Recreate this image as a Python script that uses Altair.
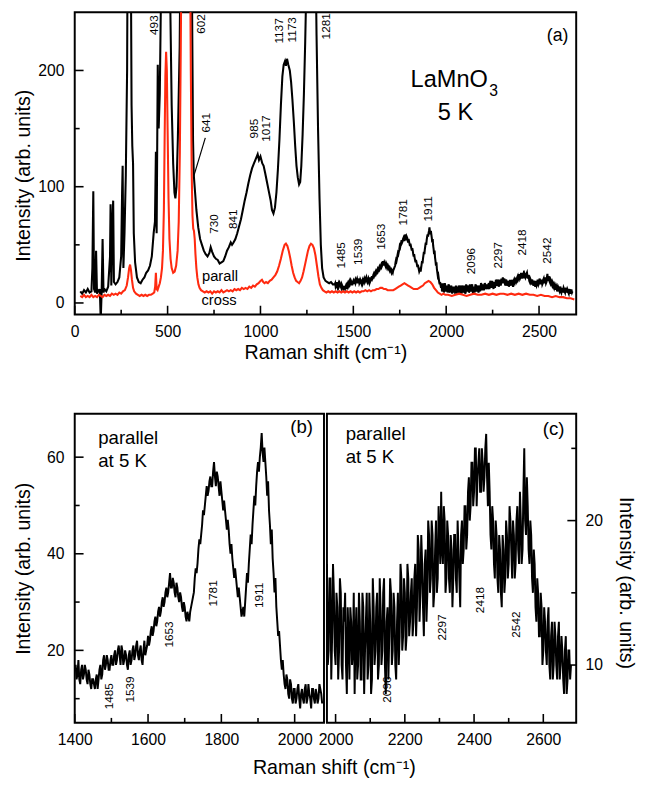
import altair as alt
import pandas as pd

FONT = "Liberation Sans, Arial, Helvetica, sans-serif"
BLACK = "#000000"
RED = "#ff2a10"

# ---------------- data ----------------
# panel (a) parallel spectrum below 1400 cm-1
parall_low_x = [30, 40, 50, 60, 70, 80, 90, 95, 100, 104, 110, 115, 120, 125, 130, 135, 140, 145,
                150, 155, 160, 170, 180, 190, 193, 197, 203, 207, 211, 220, 230, 240, 250, 255,
                258, 262, 268, 275, 282, 287, 292, 297, 302, 306, 310, 314, 318, 325, 335, 345,
                355, 365, 375, 385, 395, 405, 415, 425, 432, 437, 441, 447, 452, 458, 464, 470,
                480, 493, 505, 515, 522, 530, 537, 542, 548, 555, 565, 575, 590, 602, 615, 625,
                632, 637, 641, 648, 655, 665, 675, 685, 695, 705, 715, 725, 732, 740, 750, 760,
                770, 780, 790, 800, 810, 820, 830, 840, 847, 855, 865, 875, 885, 895, 905, 915,
                925, 935, 945, 955, 965, 975, 985, 992, 1000, 1010, 1017, 1025, 1035, 1045, 1055,
                1062, 1070, 1078, 1086, 1094, 1102, 1110, 1118, 1125, 1132, 1137, 1143, 1150,
                1158, 1165, 1172, 1180, 1187, 1194, 1201, 1208, 1214, 1220, 1227, 1234, 1241,
                1248, 1256, 1270, 1285, 1295, 1302, 1310, 1318, 1325, 1332, 1340, 1350, 1360,
                1370, 1380, 1390]
parall_low_y = [10, 8, 11, 9, 12, 9, 10, 30, 96, 12, 9, 45, 8, 11, 10, 12, -15, 10,
                55, 9, 12, 10, 14, 40, 85, 15, 70, 88, 18, 16, 18, 22, 40, 95,
                118, 30, 60, 110, 200, 400, 400, 400, 300, 170, 135, 120, 60, 35, 22, 18,
                17, 20, 22, 26, 28, 32, 40, 60, 70, 130, 60, 205, 150, 180, 260, 400,
                400, 400, 400, 250, 170, 120, 95, 90, 100, 140, 220, 400, 400, 400, 400, 350,
                250, 140, 110, 95, 80, 65, 55, 50, 45, 42, 40, 43, 48, 44, 40, 38,
                37, 34, 35, 36, 40, 45, 48, 52, 50, 52, 55, 60, 66, 72, 80, 88,
                95, 103, 110, 116, 120, 124, 128, 123, 126, 120, 118, 112, 104, 96, 88,
                80, 77, 82, 95, 115, 140, 170, 195, 205, 208, 204, 210, 205,
                200, 190, 175, 155, 135, 118, 108, 102, 104, 118, 145, 180, 225,
                280, 400, 400, 400, 320, 230, 150, 90, 50, 30, 22, 19, 18,
                17, 18, 16]

# panel (a) crossed-polarisation spectrum
cross_x = [30, 40, 50, 60, 70, 80, 90, 100, 110, 120, 130, 140, 150, 160, 170, 180, 190, 200,
           210, 220, 230, 240, 250, 260, 270, 280, 287, 293, 298, 303, 308, 314, 320, 330, 340,
           350, 360, 370, 380, 390, 400, 410, 420, 428, 433, 437, 441, 446, 452, 458, 464, 470,
           475, 480, 484, 488, 492, 496, 500, 505, 510, 516, 522, 530, 538, 546, 554, 560, 566,
           571, 576, 580, 600, 615, 620, 625, 630, 634, 638, 642, 646, 650, 655, 660, 666, 672,
           680, 690, 700, 710, 720, 730, 740, 750, 760, 770, 780, 790, 800, 810, 820, 830, 840,
           850, 860, 870, 880, 890, 900, 910, 920, 930, 940, 950, 960, 970, 980, 990, 1000,
           1008, 1015, 1022, 1030, 1040, 1050, 1060, 1070, 1080, 1090, 1100, 1110, 1120, 1130,
           1137, 1145, 1152, 1160, 1168, 1176, 1184, 1192, 1200, 1208, 1216, 1224, 1232, 1240,
           1248, 1256, 1264, 1272, 1280, 1288, 1296, 1304, 1312, 1320, 1328, 1336, 1345, 1355,
           1365, 1375, 1385, 1395, 1405, 1415, 1425, 1435, 1445, 1455, 1465, 1475, 1485, 1495,
           1505, 1515, 1525, 1535, 1545, 1555, 1565, 1575, 1585, 1595, 1605, 1615, 1625, 1635,
           1645, 1655, 1665, 1675, 1685, 1695, 1705, 1715, 1725, 1735, 1745, 1755, 1765, 1775,
           1785, 1795, 1805, 1815, 1825, 1835, 1845, 1855, 1865, 1875, 1885, 1895, 1905, 1915,
           1925, 1935, 1945, 1955, 1965, 1975, 1985, 1995, 2010, 2030, 2050, 2070, 2090, 2110,
           2130, 2150, 2170, 2190, 2210, 2230, 2250, 2270, 2290, 2310, 2330, 2350, 2370, 2390,
           2410, 2430, 2450, 2470, 2490, 2510, 2530, 2550, 2570, 2590, 2610, 2630, 2650, 2670,
           2690]
cross_y = [6, 5, 7, 5, 6, 5, 7, 5, 6, 5, 7, 6, 5, 7, 6, 7, 6, 8,
           7, 8, 7, 9, 8, 10, 11, 15, 22, 30, 33, 28, 20, 13, 10, 8, 7,
           6, 7, 6, 7, 6, 7, 7, 8, 9, 14, 26, 12, 11, 14, 17, 22, 30,
           45, 80, 140, 195, 216, 200, 150, 90, 55, 38, 30, 26, 27, 32, 45, 70, 130,
           220, 330, 420, 450, 420, 330, 200, 110, 75, 64, 62, 55, 42, 30, 22, 16, 13,
           11, 10, 9, 10, 9, 10, 8, 10, 9, 10, 9, 11, 9, 10, 11, 10, 11,
           10, 12, 11, 12, 11, 13, 12, 13, 12, 14, 13, 15, 14, 16, 17, 19,
           20, 18, 17, 18, 17, 19, 20, 22, 24, 27, 32, 38, 45, 50,
           51, 49, 45, 39, 32, 26, 22, 19, 18, 17, 19, 22, 27, 33,
           39, 45, 49, 51, 50, 47, 41, 32, 23, 16, 13, 11, 10, 9,
           10, 9, 10, 9, 10, 9, 10, 9, 10, 9, 10, 9, 10, 9,
           10, 9, 10, 9, 10, 10, 11, 10, 11, 10, 11, 11, 12, 12,
           13, 13, 12, 12, 11, 11, 11, 11, 12, 13, 14, 15, 16, 17,
           16, 15, 14, 13, 12, 12, 12, 13, 14, 15, 17, 18, 19, 18,
           16, 13, 11, 9, 8, 7, 8, 7, 7, 6, 7, 8, 7, 6,
           7, 8, 7, 7, 8, 7, 8, 7, 8, 8, 7, 8, 7, 8,
           7, 8, 7, 7, 6, 7, 6, 6, 5, 6, 5, 5, 4, 4,
           3]

# panel (b): parallel spectrum 1400-2075 cm-1, read every 5 cm-1 ...
b_start, b_step = 1400, 5
b_y = [16, 14, 18, 13, 17, 15, 16, 13, 15, 12,
       14, 12, 15, 14, 17, 15, 19, 17, 18, 16,
       19, 17, 20, 18, 21, 17, 20, 18, 19, 16,
       20, 18, 21, 19, 22, 18, 21, 17, 22, 20,
       23, 22, 25, 24, 27, 26, 29, 28, 31, 30,
       33, 32, 36, 33, 34, 31, 33, 30, 31, 28,
       29, 26, 27, 28, 30, 32, 37, 38, 43, 44,
       49, 50, 54, 53, 56, 54, 59, 54, 56, 52,
       53, 49, 49, 45, 45, 40, 39, 35, 35, 31,
       31, 27, 29, 30, 36, 38, 44, 46, 52, 54,
       59, 60, 65, 59, 59, 52, 49, 42, 39, 32,
       29, 23, 21, 16, 15, 12, 14, 10, 13, 9,
       12, 10, 13, 8, 12, 9, 13, 10, 11, 8,
       12, 9, 11, 10, 12, 9]
# ... and at the half-way points 1402.5, 1407.5, ...
b_mid_y = [17, 15, 14, 16, 14, 17, 14, 16, 13, 14,
           13, 14, 12, 16, 14, 18, 16, 19, 16, 18,
           17, 19, 17, 20, 19, 21, 17, 20, 17, 19,
           17, 20, 18, 21, 19, 20, 18, 20, 19, 21,
           21, 24, 23, 26, 25, 28, 27, 30, 29, 32,
           31, 34, 33, 35, 32, 34, 31, 32, 29, 30,
           27, 28, 26, 29, 31, 35, 36, 41, 42, 46,
           48, 52, 52, 55, 54, 57, 56, 57, 54, 55,
           51, 51, 47, 47, 42, 42, 37, 37, 33, 33,
           29, 28, 27, 33, 34, 41, 42, 49, 50, 57,
           57, 62, 61, 62, 56, 55, 46, 45, 36, 35,
           26, 24, 18, 18, 13, 15, 11, 14, 10, 12,
           9, 12, 10, 11, 10, 12, 9, 13, 10, 12,
           10, 12, 9, 13, 11]

# panel (c): parallel spectrum 1975-2680 cm-1, read every 5 cm-1 ...
c_start, c_step = 1975, 5
c_y = [17, 11, 16, 12, 15, 10, 14, 11, 15, 9,
       13, 10, 14, 9, 13, 11, 8, 14, 10, 13,
       9, 14, 11, 15, 10, 13, 9, 14, 11, 15,
       10, 14, 11, 16, 8, 14, 12, 15, 11, 14,
       9, 15, 12, 16, 12, 15, 12, 16, 13, 16,
       13, 17, 14, 18, 15, 17, 12, 18, 15, 19,
       16, 19, 15, 20, 16, 19, 22, 17, 20, 16,
       19, 15, 18, 16, 19, 15, 18, 14, 20, 18,
       21, 19, 23, 21, 24, 22, 25, 23, 25, 22,
       24, 23, 26, 21, 22, 18, 20, 16, 19, 15,
       18, 14, 18, 16, 19, 17, 20, 16, 19, 17,
       21, 17, 20, 18, 25, 19, 21, 17, 19, 15,
       17, 13, 15, 12, 14, 11, 13, 10, 14, 9,
       13, 10, 12, 9, 13, 10, 11, 8, 12, 9,
       11, 10]
# ... and at the half-way points 1977.5, 1982.5, ...
c_mid_y = [10, 16, 9, 17, 11, 15, 9, 16, 10, 14,
           15, 8, 12, 14, 10, 15, 12, 9, 15, 9,
           15, 8, 13, 9, 15, 8, 16, 10, 14, 9,
           16, 10, 15, 10, 13, 9, 16, 10, 15, 10,
           13, 10, 17, 11, 16, 11, 17, 12, 15, 12,
           16, 12, 19, 13, 19, 14, 17, 13, 20, 15,
           20, 14, 18, 15, 21, 17, 18, 21, 15, 20,
           16, 19, 14, 19, 16, 20, 16, 19, 17, 21,
           18, 22, 20, 24, 21, 25, 21, 24, 22, 25,
           22, 25, 23, 24, 19, 21, 17, 20, 16, 19,
           15, 19, 15, 20, 16, 21, 18, 20, 16, 20,
           18, 22, 17, 22, 20, 23, 18, 20, 16, 18,
           14, 16, 12, 15, 10, 14, 11, 13, 10, 12,
           9, 13, 10, 12, 9, 12, 9, 11, 8, 11,
           9]

# tick values
a_x_major = [0, 500, 1000, 1500, 2000, 2500]
a_x_minor = [250, 750, 1250, 1750, 2250]
a_y_major = [0, 100, 200]
a_y_minor = [50, 150]
b_x_major = [1400, 1600, 1800, 2000]
b_x_minor = [1500, 1700, 1900]
b_y_major = [20, 40, 60]
b_y_minor = [10, 30, 50]
c_x_major = [2000, 2200, 2400, 2600]
c_x_minor = [2100, 2300, 2500]
c_y_major = [10, 20]
c_y_minor = [15, 25]

# peak annotations
a_peak_text = ["493", "602", "641", "730", "841", "985", "1017", "1137", "1173", "1281",
               "1485", "1539", "1653", "1781", "1911", "2096", "2297", "2418", "2542"]
a_peak_x = [428, 682, 708, 750, 851, 967, 1030, 1099, 1168, 1353,
            1432, 1527, 1649, 1770, 1902, 2135, 2277, 2409, 2541]
a_peak_y = [239, 240, 155, 68, 72, 150, 150, 234, 235, 238,
            41, 44, 57, 78, 81, 36, 41, 52, 45]
b_peak_text = ["1485", "1539", "1653", "1781", "1911"]
b_peak_x = [1494, 1550, 1657, 1777, 1903]
b_peak_y = [10.5, 11.9, 23.3, 31.8, 31.4]
c_peak_text = ["2096", "2297", "2418", "2542"]
c_peak_x = [2148, 2307, 2417, 2522]
c_peak_y = [8.3, 12.6, 14.5, 12.8]

# ---------------- tables ----------------
def grid(start, step, vals):
    return pd.DataFrame({"x": [start + i * step for i in range(len(vals))], "y": vals})

df_b = pd.concat([grid(b_start, b_step, b_y), grid(b_start + b_step / 2, b_step, b_mid_y)]
                 ).sort_values("x").reset_index(drop=True)
df_c = pd.concat([grid(c_start, c_step, c_y), grid(c_start + c_step / 2, c_step, c_mid_y)]
                 ).sort_values("x").reset_index(drop=True)
df_a_par = pd.concat([pd.DataFrame({"x": parall_low_x, "y": parall_low_y}),
                      df_b[df_b.x < c_start], df_c], ignore_index=True)
df_a_cross = pd.DataFrame({"x": cross_x, "y": cross_y})

A_W, A_H = 511, 308
P_W, P_H = 254, 315
MAJ, MIN = 9, 5


def ax(values, title=None, orient=None, lp=10, tp=4, ty=None):
    kw = dict(values=values, title=title, format="d", labelFlush=False, labelOverlap=False,
              domain=False, ticks=False, grid=False, labelPadding=lp, titlePadding=tp)
    if orient:
        kw["orient"] = orient
    if ty is not None:
        kw["titleY"] = ty
    return alt.Axis(**kw)


class Panel:
    def __init__(self, xs, ys, xaxis, yaxis, W, H):
        self.xs, self.ys, self.xaxis, self.yaxis, self.W, self.H = xs, ys, xaxis, yaxis, W, H

    def X(self, f):
        return alt.X(f, scale=self.xs, axis=self.xaxis)

    def Y(self, f):
        return alt.Y(f, scale=self.ys, axis=self.yaxis)

    def line(self, df, color, sw=2.0):
        return alt.Chart(df).mark_line(color=color, strokeWidth=sw, clip=True).encode(
            x=self.X("x:Q"), y=self.Y("y:Q"))

    def ticks(self, vals, side, length):
        df = pd.DataFrame({"x": vals, "y": vals})
        if side == "bottom":
            enc = dict(x=self.X("x:Q"), y=alt.value(self.H), y2=alt.value(self.H - length))
        elif side == "left":
            enc = dict(y=self.Y("y:Q"), x=alt.value(0), x2=alt.value(length))
        else:
            enc = dict(y=self.Y("y:Q"), x=alt.value(self.W), x2=alt.value(self.W - length))
        return alt.Chart(df).mark_rule(color=BLACK, strokeWidth=1.6).encode(**enc)

    def texts(self, t, xv, yv, size, angle=0, align="center", weight="normal"):
        df = pd.DataFrame({"t": t, "x": xv, "y": yv})
        return alt.Chart(df).mark_text(angle=angle, align=align, baseline="middle", font=FONT,
                                       fontSize=size, fontWeight=weight, color=BLACK).encode(
            x=self.X("x:Q"), y=self.Y("y:Q"), text="t:N")


# ---------------- panel (a) ----------------
pa = Panel(alt.Scale(domain=[0, 2700], nice=False, zero=False),
           alt.Scale(domain=[-10, 250], nice=False, zero=False),
           ax(a_x_major, "Raman shift (cm⁻¹)", lp=9, tp=4),
           ax(a_y_major, "Intensity (arb. units)", lp=11, tp=4, ty=166), A_W, A_H)
df_leader = pd.DataFrame({"x": [703], "x2": [639], "y": [142], "y2": [108]})
leader = alt.Chart(df_leader).mark_rule(color=BLACK, strokeWidth=1.2).encode(
    x=pa.X("x:Q"), x2="x2:Q", y=pa.Y("y:Q"), y2="y2:Q")

panel_a = alt.layer(
    pa.line(df_a_par, BLACK, sw=2.1),
    pa.line(df_a_cross, RED, sw=2.1),
    pa.ticks(a_x_major, "bottom", MAJ),
    pa.ticks(a_x_minor, "bottom", MIN),
    pa.ticks(a_y_major, "left", MAJ),
    pa.ticks(a_y_minor, "left", MIN),
    pa.texts(a_peak_text, a_peak_x, a_peak_y, 12, angle=270),
    leader,
    pa.texts(["(a)"], [2600], [229.7], 18),
    pa.texts(["LaMnO"], [2224], [191.8], 24, align="right"),
    pa.texts(["3"], [2232], [182.5], 16, align="left"),
    pa.texts(["5 K"], [2050], [163], 24),
    pa.texts(["parall", "cross"], [782, 777], [22.9, 2.7], 15),
).properties(width=A_W, height=A_H)

# ---------------- panel (b) ----------------
pb = Panel(alt.Scale(domain=[1400, 2080], nice=False, zero=False),
           alt.Scale(domain=[5, 69], nice=False, zero=False),
           ax(b_x_major, None, lp=9),
           ax(b_y_major, "Intensity (arb. units)", lp=11, tp=13), P_W, P_H)
panel_b = alt.layer(
    pb.line(df_b, BLACK),
    pb.ticks(b_x_major, "bottom", MAJ),
    pb.ticks(b_x_minor, "bottom", MIN),
    pb.ticks(b_y_major, "left", MAJ),
    pb.ticks(b_y_minor, "left", MIN),
    pb.texts(b_peak_text, b_peak_x, b_peak_y, 12, angle=270),
    pb.texts(["parallel", "at 5 K"], [1464, 1464], [63.9, 59.2], 19, align="left"),
    pb.texts(["(b)"], [2019], [66.2], 19),
).properties(width=P_W, height=P_H)

# ---------------- panel (c) ----------------
pc = Panel(alt.Scale(domain=[1975, 2695], nice=False, zero=False),
           alt.Scale(domain=[6, 27.4], nice=False, zero=False),
           ax(c_x_major, None, lp=9),
           ax(c_y_major, "Intensity (arb. units)", orient="right", lp=9, tp=13, ty=172),
           P_W, P_H)
panel_c = alt.layer(
    pc.line(df_c, BLACK),
    pc.ticks(c_x_major, "bottom", MAJ),
    pc.ticks(c_x_minor, "bottom", MIN),
    pc.ticks(c_y_major, "right", MAJ),
    pc.ticks(c_y_minor, "right", MIN),
    pc.texts(c_peak_text, c_peak_x, c_peak_y, 12, angle=270),
    pc.texts(["parallel", "at 5 K"], [2029, 2029], [26.0, 24.4], 19, align="left"),
    pc.texts(["(c)"], [2630], [26.3], 19),
).properties(width=P_W, height=P_H)

bottom = alt.hconcat(panel_b, panel_c, spacing=3, bounds="flush").properties(
    title=alt.TitleParams("Raman shift (cm⁻¹)", orient="bottom", anchor="middle",
                          font=FONT, fontSize=20, fontWeight="normal", color=BLACK,
                          offset=10, dx=10)
)

chart = alt.vconcat(panel_a, bottom, spacing=101, bounds="flush").properties(
    padding={"left": 5, "top": -4, "right": 3, "bottom": 3}
).configure_view(
    stroke=BLACK, strokeWidth=2
).configure_axis(
    labelFont=FONT, labelFontSize=16, labelColor=BLACK,
    titleFont=FONT, titleFontSize=20, titleFontWeight="normal", titleColor=BLACK,
)

chart.save("out.html", embed_options={"renderer": "svg", "actions": False})
